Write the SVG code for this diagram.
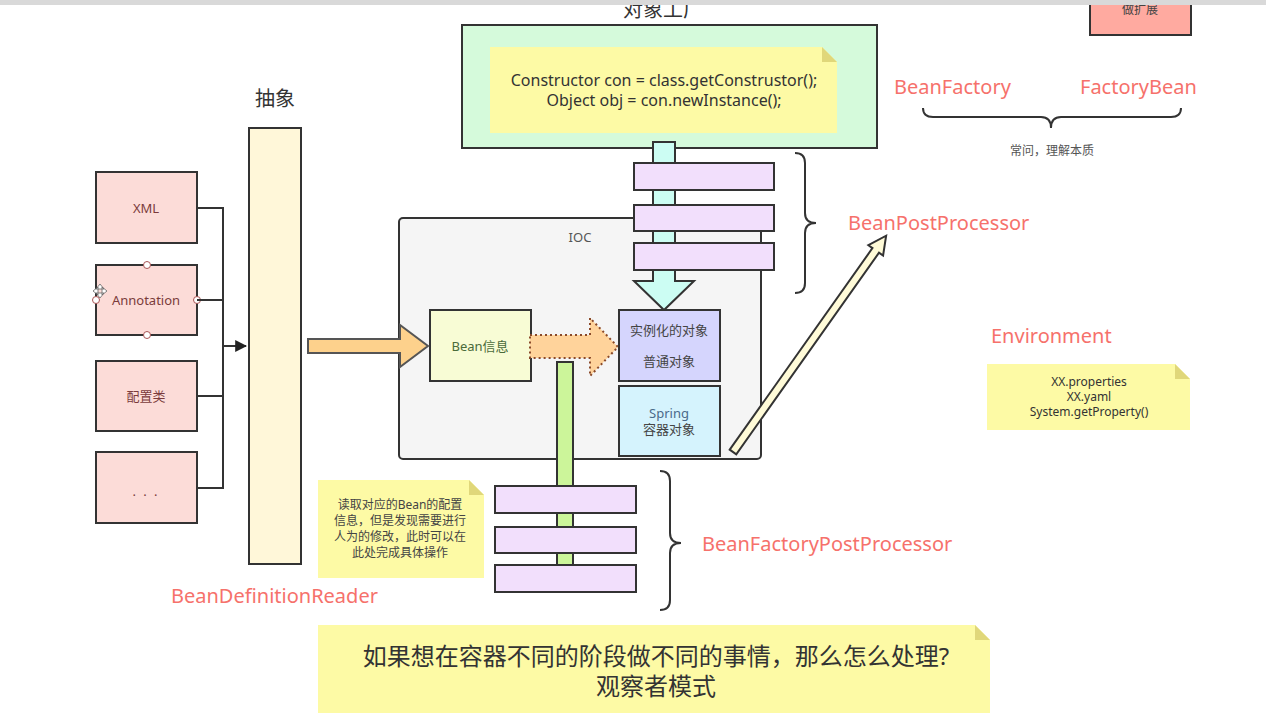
<svg xmlns="http://www.w3.org/2000/svg" width="1266" height="726" viewBox="0 0 1266 726">
<defs>
<style>
text{font-family:"Noto Sans","Noto Sans CJK SC",sans-serif;}
.box{stroke:#333;stroke-width:2;}
.src{fill:#fcdcd8;stroke:#333;stroke-width:2;}
.srct{fill:#7a3b3b;font-size:13px;text-anchor:middle;}
.pp{fill:#f2dffc;stroke:#333;stroke-width:2;}
.note{fill:#fdfaa5;}
.fold{fill:#e0d77a;}
.red{fill:#f6716b;font-size:20px;}
.conn{fill:none;stroke:#333;stroke-width:2;}
.brace{fill:none;stroke:#333;stroke-width:2;}
.handle{fill:#fff;stroke:#a55;stroke-width:1;}
</style>
<marker id="ah" viewBox="0 0 10 10" refX="9" refY="5" markerWidth="6" markerHeight="6" orient="auto" markerUnits="strokeWidth">
<path d="M0,0 L10,5 L0,10 z" fill="#222"/>
</marker>
</defs>
<rect x="0" y="0" width="1266" height="726" fill="#fff"/>

<!-- top partial label -->
<text x="663" y="17" font-size="20" fill="#333" text-anchor="middle">对象工厂</text>
<g id="extend">
<rect x="1090" y="-2" width="101" height="37" fill="#ffaaa0" class="box"/>
<text x="1140" y="14" font-size="12" fill="#444" text-anchor="middle">做扩展</text>
</g>
<rect x="0" y="0" width="1266" height="5" fill="#d9d9d9"/>

<!-- object factory -->
<g id="factory">
<rect x="462" y="25" width="415" height="123" fill="#d5fadb" class="box"/>
<path class="note" d="M490,47 H822 L837,62 V133 H490 Z"/>
<path class="fold" d="M822,47 L837,62 H822 Z"/>
<text x="664" y="86" font-size="16" fill="#333" text-anchor="middle">Constructor con = class.getConstrustor();</text>
<text x="664" y="106" font-size="16" fill="#333" text-anchor="middle">Object obj = con.newInstance();</text>
</g>

<!-- BeanFactory / FactoryBean -->
<g id="bf-fb">
<text x="894" y="94" class="red">BeanFactory</text>
<text x="1080" y="94" class="red">FactoryBean</text>
<path class="brace" d="M923,108 Q923,117 933,117 H1041 Q1051,117 1051,128 Q1051,117 1061,117 H1171 Q1181,117 1181,108"/>
<text x="1052" y="155" font-size="12" fill="#555" text-anchor="middle">常问，理解本质</text>
</g>

<!-- abstract bar -->
<g id="reader">
<text x="275" y="106" font-size="20" fill="#333" text-anchor="middle">抽象</text>
<rect x="249" y="128" width="52" height="436" fill="#fff7d9" class="box"/>
<text x="171" y="603" class="red">BeanDefinitionReader</text>
</g>

<!-- sources -->
<g id="xml"><rect x="96" y="172" width="101" height="71" class="src"/><text x="146" y="213" class="srct">XML</text></g>
<g id="annotation"><rect x="96" y="265" width="101" height="70" class="src"/><text x="146" y="305" class="srct">Annotation</text>
<circle cx="147" cy="265" r="3.5" class="handle"/><circle cx="147" cy="335" r="3.5" class="handle"/><circle cx="197" cy="300" r="3.5" class="handle"/><circle cx="96" cy="300" r="3.5" class="handle"/>
<path d="M100,284 L104,289 H96 Z M100,298 L104,293 H96 Z M93,291 L98,287 V295 Z M107,291 L102,287 V295 Z" fill="#fff" stroke="#666" stroke-width="0.8"/>
</g>
<g id="config"><rect x="96" y="361" width="101" height="70" class="src"/><text x="146" y="401" class="srct">配置类</text></g>
<g id="more"><rect x="96" y="452" width="101" height="71" class="src"/><text x="146" y="496" class="srct" letter-spacing="2">. . .</text></g>

<!-- IOC -->
<g id="ioc">
<rect x="399" y="218" width="362" height="241" rx="4" fill="#f5f5f5" class="box"/>
<text x="580" y="242" font-size="13" fill="#555" text-anchor="middle">IOC</text>
</g>
<g id="beaninfo">
<rect x="430" y="310" width="101" height="71" fill="#f8fcd5" class="box"/>
<text x="480" y="351" font-size="13" fill="#4a6b3a" text-anchor="middle">Bean信息</text>
</g>

<!-- connectors -->
<g id="connectors">
<path class="conn" d="M197,208 H223 V488 H197 M197,300 H223 M197,396 H223"/>
<path class="conn" d="M223,346 H246" marker-end="url(#ah)"/>
<path d="M308,339 H400 V325 L428,346 L400,367 V353 H308 Z" fill="#fdd18c" stroke="#555" stroke-width="2"/>
<path d="M530,335 H590 V318 L618,347 L590,376 V358 H530 Z" fill="#ffd39b" stroke="#8a4a2a" stroke-width="2" stroke-dasharray="2,3"/>
<rect x="557" y="362" width="16" height="228" fill="#ccf59a" class="box"/>
<path d="M653,142 H675 V281 H694 L664,310 L634,281 H653 Z" fill="#ccfdf3" stroke="#333" stroke-width="2"/>
<g transform="translate(733,452) rotate(-54.7)">
<path d="M0,-4 H247 V-9 L265,0 L247,9 V4 H0 Z" fill="#fffbd8" stroke="#333" stroke-width="2"/>
</g>
</g>

<!-- BeanPostProcessor boxes -->
<g id="bpp">
<rect x="634" y="163" width="140" height="27" class="pp"/>
<rect x="634" y="205" width="140" height="26" class="pp"/>
<rect x="634" y="243" width="140" height="27" class="pp"/>
<path class="brace" d="M795,153 Q805,153 805,163 V213 Q805,223 816,223 Q805,223 805,233 V283 Q805,293 795,293"/>
<text x="848" y="230" class="red">BeanPostProcessor</text>
</g>

<!-- instance objects -->
<g id="instance">
<rect x="619" y="310" width="101" height="71" fill="#d5d5fd" class="box"/>
<text x="669" y="335" font-size="13" fill="#444" text-anchor="middle">实例化的对象</text>
<text x="669" y="366" font-size="13" fill="#444" text-anchor="middle">普通对象</text>
</g>
<g id="springobj">
<rect x="619" y="386" width="101" height="70" fill="#d5f3fd" class="box"/>
<text x="669" y="418" font-size="13" fill="#4a6a8a" text-anchor="middle">Spring</text>
<text x="669" y="434" font-size="13" fill="#444" text-anchor="middle">容器对象</text>
</g>

<!-- BeanFactoryPostProcessor -->
<g id="bfpp">
<rect x="495" y="486" width="141" height="27" class="pp"/>
<rect x="495" y="527" width="141" height="26" class="pp"/>
<rect x="495" y="565" width="141" height="27" class="pp"/>
<path class="brace" d="M660,471 Q670,471 670,481 V533 Q670,543 681,543 Q670,543 670,553 V600 Q670,610 660,610"/>
<text x="702" y="551" class="red">BeanFactoryPostProcessor</text>
</g>

<!-- note left -->
<g id="note-reader">
<path class="note" d="M318,480 H469 L484,495 V578 H318 Z"/>
<path class="fold" d="M469,480 L484,495 H469 Z"/>
<g font-size="12" fill="#444" text-anchor="middle">
<text x="400" y="509">读取对应的Bean的配置</text>
<text x="400" y="525">信息，但是发现需要进行</text>
<text x="400" y="541">人为的修改，此时可以在</text>
<text x="400" y="557">此处完成具体操作</text>
</g>
</g>

<!-- Environment -->
<g id="environment">
<text x="991" y="343" class="red">Environment</text>
<path class="note" d="M987,364 H1175 L1190,379 V430 H987 Z"/>
<path class="fold" d="M1175,364 L1190,379 H1175 Z"/>
<g font-size="12" fill="#333" text-anchor="middle">
<text x="1089" y="386">XX.properties</text>
<text x="1089" y="401">XX.yaml</text>
<text x="1089" y="416">System.getProperty()</text>
</g>
</g>

<!-- bottom note -->
<g id="note-question">
<path class="note" d="M318,625 H975 L990,640 V713 H318 Z"/>
<path class="fold" d="M975,625 L990,640 H975 Z"/>
<text x="656" y="665" font-size="24" fill="#333" text-anchor="middle">如果想在容器不同的阶段做不同的事情，那么怎么处理?</text>
<text x="656" y="695" font-size="24" fill="#333" text-anchor="middle">观察者模式</text>
</g>
</svg>
